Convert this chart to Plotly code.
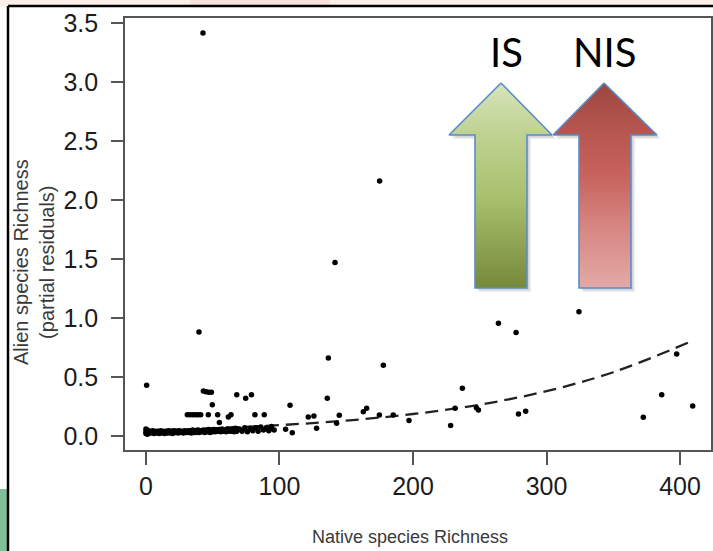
import plotly.graph_objects as go

W, H = 713, 551

# ---------------- data ----------------
# dense band of low-richness sites
band_x = [0, 0, 0.5, 1, 0, 2, 4, 6, 8, 10, 12, 14, 16, 18, 20, 22, 24, 26, 28, 30, 32, 34, 36,
          38, 40, 42, 44, 46, 48, 50, 52, 54, 56, 58, 60, 62, 64, 66, 68, 72, 76, 80, 84,
          88, 92, 96,
          1, 3, 5, 7, 9, 11, 13, 15, 17, 19, 21, 23, 25, 27, 29, 31, 33, 35, 37, 39, 41,
          43, 45, 47, 49, 51, 53, 55, 57, 59, 61, 63, 65, 67, 70, 74, 78, 82, 86, 90, 94]
band_y = [0.02, 0.035, 0.05, 0.015, 0.06, 0.02, 0.025, 0.02, 0.025, 0.02, 0.025, 0.02, 0.025,
          0.025, 0.02, 0.03, 0.025, 0.03, 0.025, 0.03, 0.03, 0.025, 0.03, 0.03, 0.03, 0.035,
          0.03, 0.035, 0.03, 0.035, 0.035, 0.04, 0.035, 0.04, 0.035, 0.04, 0.04, 0.035, 0.04,
          0.04, 0.035, 0.045, 0.04, 0.05, 0.045, 0.05,
          0.05, 0.04, 0.045, 0.04, 0.04, 0.045, 0.04, 0.04, 0.045, 0.04, 0.045, 0.04, 0.045,
          0.04, 0.045, 0.04, 0.045, 0.05, 0.045, 0.05, 0.045, 0.05, 0.05, 0.055, 0.05, 0.055,
          0.05, 0.055, 0.06, 0.05, 0.06, 0.055, 0.06, 0.065, 0.06, 0.07, 0.065, 0.07, 0.075,
          0.07, 0.08]

# scattered sites
site_x = [0.5, 39.7, 42.7, 43, 45, 47, 49, 68, 74.7, 79, 49.7,
          31, 33, 35, 37, 39, 41, 46.7, 53.7, 63.7, 81.6, 88.6, 55, 61.7,
          107.9, 135.8, 136.6, 141.6, 175, 177.8, 121.6, 125.8, 144.8, 127.8, 142.8,
          104.6, 109.6, 92.9, 162.8, 165.3, 174.8, 185.2, 197,
          264, 277.2, 324.3, 237, 228.2, 231.5, 249, 247.5, 279, 284.4,
          372.5, 386.3, 397.5, 409.5]
site_y = [0.43, 0.88, 3.415, 0.38, 0.375, 0.37, 0.37, 0.35, 0.32, 0.35, 0.265,
          0.18, 0.18, 0.18, 0.18, 0.18, 0.18, 0.18, 0.18, 0.18, 0.18, 0.18, 0.115, 0.16,
          0.26, 0.32, 0.66, 1.47, 2.16, 0.60, 0.16, 0.17, 0.175, 0.065, 0.107,
          0.057, 0.028, 0.06, 0.206, 0.235, 0.178, 0.178, 0.13,
          0.955, 0.876, 1.053, 0.404, 0.088, 0.235, 0.22, 0.24, 0.186, 0.21,
          0.158, 0.35, 0.695, 0.254]

# fitted (dashed) curve, read at a few native-richness values
fit_x = [0, 50, 100, 150, 200, 250, 300, 350, 408]
fit_y = [0.045, 0.065, 0.092, 0.130, 0.186, 0.265, 0.38, 0.54, 0.80]

x_ticks = [0, 100, 200, 300, 400]
y_ticks = [0, 0.5, 1.0, 1.5, 2.0, 2.5, 3.0, 3.5]
y_tick_labels = ["0.0", "0.5", "1.0", "1.5", "2.0", "2.5", "3.0", "3.5"]

arrow_labels = ["IS", "NIS"]

# ---------------- figure ----------------
fig = go.Figure()

fig.add_trace(go.Scatter(
    x=fit_x, y=fit_y, mode="lines",
    line=dict(color="#222222", width=2.3, dash="13px,7px", shape="spline"),
    hoverinfo="skip", showlegend=False))

fig.add_trace(go.Scatter(
    x=band_x + site_x, y=band_y + site_y, mode="markers",
    marker=dict(color="black", size=5.5, line=dict(width=0)),
    showlegend=False))

# ---- decorative arrows (pixel-space overlay axes) ----
def px(xs, ys, dx=0, dy=0):
    return [x + dx for x in xs], [H - (y + dy) for y in ys]

green_px = [501, 552, 527, 527, 475, 475, 449, 501]
red_px = [604, 657, 631, 631, 579, 579, 553, 604]
arrow_py = [83, 135, 135, 288, 288, 135, 135, 83]

for xs in (green_px, red_px):
    for off, alpha in ((4, 0.07), (2.5, 0.10)):
        sx, sy = px(xs, arrow_py, off, off)
        fig.add_trace(go.Scatter(
            x=sx, y=sy, xaxis="x2", yaxis="y2", mode="lines", fill="toself",
            fillcolor=f"rgba(0,0,0,{alpha})", line=dict(width=0),
            hoverinfo="skip", showlegend=False))

gx, gy = px(green_px, arrow_py)
fig.add_trace(go.Scatter(
    x=gx, y=gy, xaxis="x2", yaxis="y2", mode="lines", fill="toself",
    fillgradient=dict(type="vertical", start=H - 288, stop=H - 83,
                      colorscale=[[0, "#76893a"], [0.45, "#a9c16f"],
                                  [0.75, "#bfd291"], [1, "#d6e3bb"]]),
    line=dict(color="#5b8ccc", width=1.6),
    hoverinfo="skip", showlegend=False))

rx, ry = px(red_px, arrow_py)
fig.add_trace(go.Scatter(
    x=rx, y=ry, xaxis="x2", yaxis="y2", mode="lines", fill="toself",
    fillgradient=dict(type="vertical", start=H - 288, stop=H - 83,
                      colorscale=[[0, "#e3a9a6"], [0.3, "#d68682"],
                                  [0.55, "#c8625c"], [0.8, "#b2544d"], [1, "#9b4640"]]),
    line=dict(color="#5b8ccc", width=1.6),
    hoverinfo="skip", showlegend=False))

axis_font = dict(family="Liberation Sans, Arial, sans-serif", size=25, color="#1c1c1c")

fig.update_layout(
    width=W, height=H,
    margin=dict(l=0, r=0, t=0, b=0, pad=0),
    paper_bgcolor="white",
    plot_bgcolor="rgba(0,0,0,0)",
    showlegend=False,
    xaxis=dict(domain=[125 / W, 711 / W], range=[-15.7, 423.2],
               tickvals=x_ticks, ticks="outside", ticklen=13, tickwidth=1.5,
               tickcolor="#555555", showline=True, mirror=True, linecolor="#555555",
               linewidth=1.6, showgrid=False, zeroline=False, tickfont=axis_font,
               fixedrange=True, automargin=False),
    yaxis=dict(domain=[(H - 450) / H, (H - 18) / H], range=[-0.119, 3.542],
               tickvals=y_ticks, ticktext=y_tick_labels, ticks="outside", ticklen=12,
               tickwidth=1.5, tickcolor="#555555", showline=True, mirror=True,
               linecolor="#555555", linewidth=1.6, showgrid=False, zeroline=False,
               tickfont=axis_font, ticklabelstandoff=8, fixedrange=True, automargin=False),
    xaxis2=dict(domain=[0, 1], range=[0, W], visible=False, anchor="y2", fixedrange=True),
    yaxis2=dict(domain=[0, 1], range=[0, H], visible=False, anchor="x2", fixedrange=True),
)

# slide background pieces and frame
fig.add_shape(type="rect", xref="paper", yref="paper", x0=0, x1=1, y0=1 - 6 / H, y1=1,
              fillcolor="#fcefe7", line=dict(width=0), layer="below")
fig.add_shape(type="rect", xref="paper", yref="paper", x0=190 / W, x1=330 / W,
              y0=1 - 5 / H, y1=1, fillcolor="#f8e2da", line=dict(width=0), layer="below")
fig.add_shape(type="rect", xref="paper", yref="paper", x0=0, x1=8 / W, y0=0,
              y1=1 - 489 / H, fillcolor="#80bf98", line=dict(width=0), layer="below")
fig.add_shape(type="line", xref="paper", yref="paper", x0=8 / W, x1=8 / W, y0=0,
              y1=1 - 6 / H, line=dict(color="black", width=2.5))
fig.add_shape(type="line", xref="paper", yref="paper", x0=8 / W, x1=1, y0=1 - 6 / H,
              y1=1 - 6 / H, line=dict(color="black", width=2.5))

title_font = dict(family="Liberation Sans, Arial, sans-serif", size=20, color="#3a3a3a")
fig.add_annotation(text="Alien species Richness<br>(partial residuals)", xref="paper",
                   yref="paper", x=34 / W, y=1 - 262 / H, showarrow=False, textangle=-90,
                   font=title_font, xanchor="center", yanchor="middle")
fig.add_annotation(text="Native species Richness", xref="paper", yref="paper",
                   x=410 / W, y=1 - 537 / H, showarrow=False, font=dict(
                       family="Liberation Sans, Arial, sans-serif", size=18, color="#3a3a3a"),
                   xanchor="center", yanchor="middle")

label_font = dict(family="Lato, Open Sans, sans-serif", size=40, color="black")
for lab, cx in zip(arrow_labels, [507, 604]):
    fig.add_annotation(text=lab, xref="paper", yref="paper", x=cx / W, y=1 - 52 / H,
                       showarrow=False, font=label_font, xanchor="center", yanchor="middle")

fig.write_html(
    "out.html",
    config={"displayModeBar": False},
    post_script="document.body.style.margin='0';document.body.style.padding='0';"
                "document.body.style.overflow='hidden';")
